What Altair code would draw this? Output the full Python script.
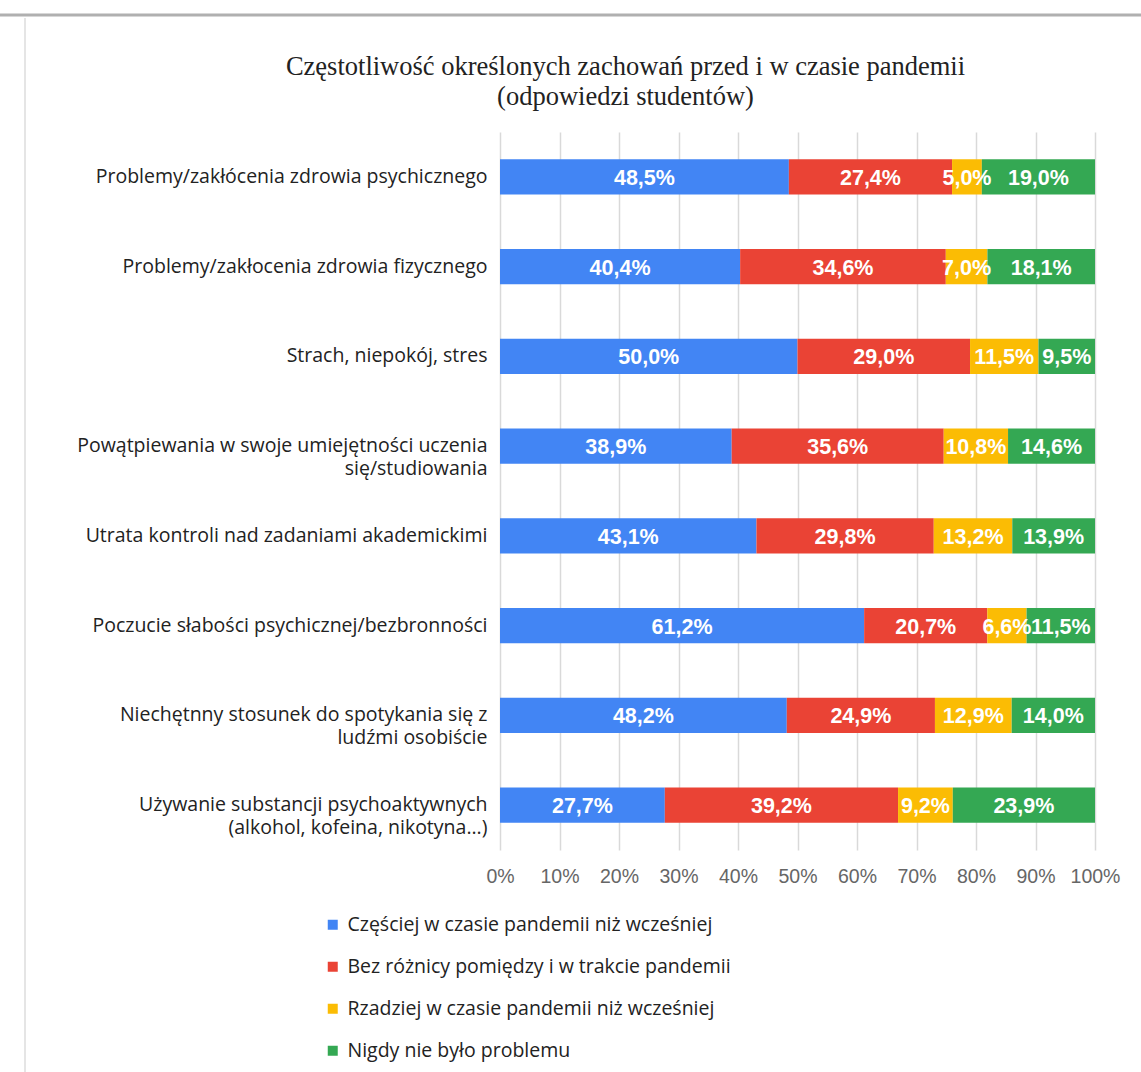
import altair as alt
import pandas as pd

categories = [
    "Problemy/zakłócenia zdrowia psychicznego",
    "Problemy/zakłocenia zdrowia fizycznego",
    "Strach, niepokój, stres",
    "Powątpiewania w swoje umiejętności uczenia|się/studiowania",
    "Utrata kontroli nad zadaniami akademickimi",
    "Poczucie słabości psychicznej/bezbronności",
    "Niechętnny stosunek do spotykania się z|ludźmi osobiście",
    "Używanie substancji psychoaktywnych|(alkohol, kofeina, nikotyna...)",
]
series = [
    "Częściej w czasie pandemii niż wcześniej",
    "Bez różnicy pomiędzy i w trakcie pandemii",
    "Rzadziej w czasie pandemii niż wcześniej",
    "Nigdy nie było problemu",
]
colors = ["#4285F4", "#EA4335", "#FBBC04", "#34A853"]
v_more = [48.5, 40.4, 50.0, 38.9, 43.1, 61.2, 48.2, 27.7]
v_same = [27.4, 34.6, 29.0, 35.6, 29.8, 20.7, 24.9, 39.2]
v_less = [5.0, 7.0, 11.5, 10.8, 13.2, 6.6, 12.9, 9.2]
v_never = [19.0, 18.1, 9.5, 14.6, 13.9, 11.5, 14.0, 23.9]
x_ticks = [0, 0.1, 0.2, 0.3, 0.4, 0.5, 0.6, 0.7, 0.8, 0.9, 1.0]

rows = []
for i, c in enumerate(categories):
    for j, (s, vals) in enumerate(zip(series, [v_more, v_same, v_less, v_never])):
        rows.append({"cat": c, "series": s, "order": j, "v": vals[i]})
df = pd.DataFrame(rows)

base = alt.Chart(df).transform_stack(
    stack="v", groupby=["cat"], as_=["x0", "x1"], offset="normalize",
    sort=[alt.SortField("order", order="ascending")],
).transform_calculate(
    mid="(datum.x0 + datum.x1) / 2",
    lab="replace(format(datum.v, '.1f'), '.', ',') + '%'",
)

y_enc = alt.Y(
    "cat:N", sort=categories, title=None,
    scale=alt.Scale(paddingInner=0.61, paddingOuter=0.305),
    axis=alt.Axis(
        domain=False, ticks=False, grid=False, labelPadding=13,
        labelFont="Open Sans", labelFontSize=19.5, labelColor="#222222",
        labelLimit=480, labelExpr="split(datum.label, '|')", labelLineHeight=23,
    ),
)

bars = base.mark_bar().encode(
    x=alt.X(
        "x0:Q", title=None, scale=alt.Scale(domain=[0, 1], nice=False),
        axis=alt.Axis(
            values=x_ticks, format=".0%", domain=False, ticks=False, grid=True,
            gridColor="#d9d9d9", gridWidth=1.5, labelPadding=17,
            labelOverlap=False, labelFlush=False,
            labelFont="Liberation Sans", labelFontSize=19.5, labelColor="#666666",
        ),
    ),
    x2="x1:Q",
    y=y_enc,
    color=alt.Color(
        "series:N",
        scale=alt.Scale(domain=series, range=colors),
        legend=alt.Legend(
            title=None, orient="none", direction="vertical",
            legendX=-177, legendY=783, symbolType="square", symbolSize=100,
            symbolStrokeWidth=0, labelFont="Open Sans", labelFontSize=19.5,
            labelColor="#222222", rowPadding=21, labelOffset=5, labelLimit=600,
        ),
    ),
)

labels = base.mark_text(
    color="white", fontWeight="bold", font="Liberation Sans", fontSize=21.5, dy=2
).encode(
    x=alt.X("mid:Q"),
    y=alt.Y("cat:N", sort=categories),
    text="lab:N",
)

frame = pd.DataFrame({"a": [0]})
top_line = alt.Chart(frame).mark_rule(color="#b0b0b0", strokeWidth=3).encode(
    x=alt.value(-500), x2=alt.value(641), y=alt.value(-117)
)
left_line = alt.Chart(frame).mark_rule(color="#dddddd", strokeWidth=1.5).encode(
    x=alt.value(-475), y=alt.value(-114), y2=alt.value(940)
)

chart = alt.layer(bars, labels, top_line, left_line).properties(
    width=595,
    height=718,
    padding={"left": 500, "top": 132, "right": 46, "bottom": 222},
    autosize=alt.AutoSizeParams(type="none"),
    background="white",
    title=alt.TitleParams(
        text=["Częstotliwość określonych zachowań przed i w czasie pandemii",
              "(odpowiedzi studentów)"],
        font="Liberation Serif", fontSize=26.5, fontWeight="normal", color="#222222",
        anchor="middle", dx=-172, offset=-97, lineHeight=30,
    ),
).configure_view(stroke=None)

chart.save("out.html", embed_options={"renderer": "svg", "actions": False})
